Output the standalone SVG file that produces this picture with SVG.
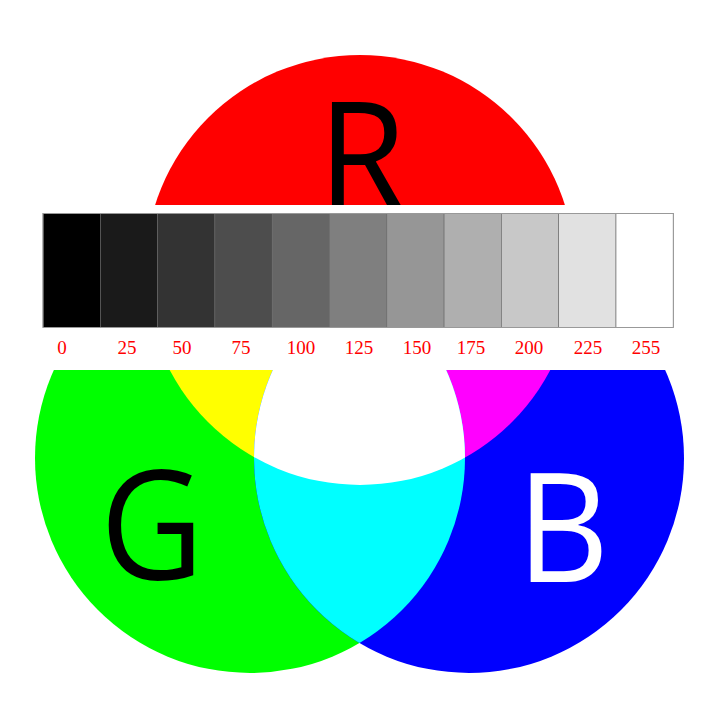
<svg xmlns="http://www.w3.org/2000/svg" width="720" height="720" viewBox="0 0 720 720">
<style>
.big{font-family:"Open Sans","Noto Sans","DejaVu Sans",sans-serif;font-size:152px;font-weight:500;text-anchor:middle}
.lbl{font-family:"Liberation Serif","Times New Roman",serif;font-size:19px;fill:#ff0000;text-anchor:middle}
.cell{stroke:#666;stroke-width:0.6}
</style>
<defs>
<circle id="cR" cx="360" cy="270" r="215"/>
<circle id="cG" cx="250" cy="458" r="215"/>
<circle id="cB" cx="469" cy="458" r="215"/>
<clipPath id="clipR"><use href="#cR"/></clipPath>
<clipPath id="clipG"><use href="#cG"/></clipPath>
</defs>
<rect width="720" height="720" fill="#fff"/>
<g id="circles">
<use id="circle-r" href="#cR" fill="#ff0000"/>
<use id="circle-g" href="#cG" fill="#00ff00"/>
<use id="circle-b" href="#cB" fill="#0000ff"/>
<use id="yellow" href="#cG" fill="#ffff00" clip-path="url(#clipR)"/>
<use id="magenta" href="#cB" fill="#ff00ff" clip-path="url(#clipR)"/>
<use id="cyan" href="#cB" fill="#00ffff" clip-path="url(#clipG)"/>
<g id="white-center" clip-path="url(#clipR)"><use href="#cB" fill="#ffffff" clip-path="url(#clipG)"/></g>
</g>
<g id="letter-r"><text class="big" transform="translate(362 210) scale(0.94 1)" fill="#000">R</text></g>
<g id="letter-g"><text class="big" transform="translate(152 580) scale(0.94 1)" fill="#000">G</text></g>
<g id="letter-b"><text class="big" transform="translate(563 582) scale(0.94 1)" fill="#fff">B</text></g>
<rect id="band" x="0" y="205" width="720" height="165" fill="#fff"/>
<g id="grayscale">
<rect class="cell" x="43" y="213.5" width="57.3" height="114" fill="#000000"/>
<rect class="cell" x="100.3" y="213.5" width="57.3" height="114" fill="#1a1a1a"/>
<rect class="cell" x="157.6" y="213.5" width="57.3" height="114" fill="#333333"/>
<rect class="cell" x="214.9" y="213.5" width="57.3" height="114" fill="#4d4d4d"/>
<rect class="cell" x="272.2" y="213.5" width="57.3" height="114" fill="#666666"/>
<rect class="cell" x="329.5" y="213.5" width="57.3" height="114" fill="#7f7f7f"/>
<rect class="cell" x="386.8" y="213.5" width="57.3" height="114" fill="#969696"/>
<rect class="cell" x="444.1" y="213.5" width="57.3" height="114" fill="#afafaf"/>
<rect class="cell" x="501.4" y="213.5" width="57.3" height="114" fill="#c8c8c8"/>
<rect class="cell" x="558.7" y="213.5" width="57.3" height="114" fill="#e1e1e1"/>
<rect class="cell" x="616" y="213.5" width="57.3" height="114" fill="#ffffff"/>
<rect x="43" y="213.5" width="630.3" height="114" fill="none" stroke="#999" stroke-width="1"/>
</g>
<g id="labels">
<text class="lbl" x="62" y="354">0</text>
<text class="lbl" x="127" y="354">25</text>
<text class="lbl" x="182" y="354">50</text>
<text class="lbl" x="241" y="354">75</text>
<text class="lbl" x="301" y="354">100</text>
<text class="lbl" x="359" y="354">125</text>
<text class="lbl" x="417" y="354">150</text>
<text class="lbl" x="471" y="354">175</text>
<text class="lbl" x="529" y="354">200</text>
<text class="lbl" x="588" y="354">225</text>
<text class="lbl" x="646" y="354">255</text>
</g>
<g id="connectors"/>
</svg>
